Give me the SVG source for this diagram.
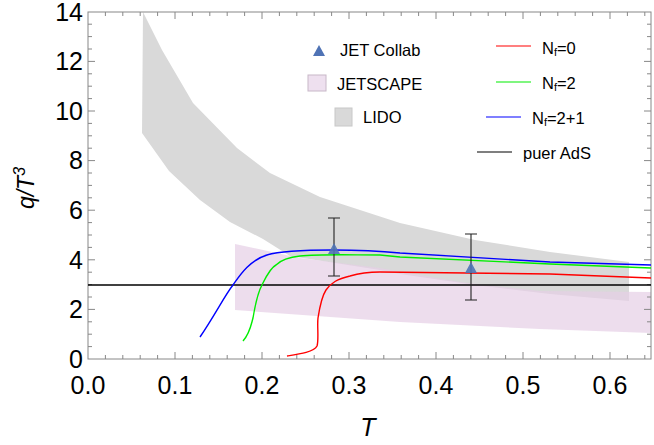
<svg xmlns="http://www.w3.org/2000/svg" width="654" height="445" viewBox="0 0 654 445">
<style>
text{font-family:"Liberation Sans",Arial,sans-serif;fill:#000}
.tk{font-size:25px}
.lg{font-size:16.5px}
.ax{stroke:#888;stroke-width:1;fill:none}
.cv{fill:none;stroke-width:1.4}
.eb{stroke:#222;stroke-width:1.1;fill:none}
</style>
<g id="bands">
<path id="lido" d="M143,12 L162,50 L193,103 L237,148 L270,173 L320,197 L400,223 L475,240 L550,252 L629,262 L629,301 L550,294 L475,285 L400,274 L380,270 L290,256 L263,239 L230,222 L200,200 L169,171 L142,133 Z" fill="#d9d9d9"/>
<path id="jetscape" d="M235,244 L300,258 L380,268 L460,282 L540,291 L651,292 L651,333 L540,329 L400,322 L235,310 Z" fill="#e6cfe6" fill-opacity="0.7"/>
</g>
<g id="axes">
<rect x="88" y="12" width="563" height="347" class="ax"/>
<path class="ax" d="M175,359v-7M262,359v-7M349,359v-7M436,359v-7M523,359v-7M610,359v-7M175,12v7M262,12v7M349,12v7M436,12v7M523,12v7M610,12v7
M105.4,359v-4M122.8,359v-4M140.2,359v-4M157.6,359v-4M192.4,359v-4M209.8,359v-4M227.2,359v-4M244.6,359v-4M279.4,359v-4M296.8,359v-4M314.2,359v-4M331.6,359v-4M366.4,359v-4M383.8,359v-4M401.2,359v-4M418.6,359v-4M453.4,359v-4M470.8,359v-4M488.2,359v-4M505.6,359v-4M540.4,359v-4M557.8,359v-4M575.2,359v-4M592.6,359v-4M627.4,359v-4M644.8,359v-4
M105.4,12v4M122.8,12v4M140.2,12v4M157.6,12v4M192.4,12v4M209.8,12v4M227.2,12v4M244.6,12v4M279.4,12v4M296.8,12v4M314.2,12v4M331.6,12v4M366.4,12v4M383.8,12v4M401.2,12v4M418.6,12v4M453.4,12v4M470.8,12v4M488.2,12v4M505.6,12v4M540.4,12v4M557.8,12v4M575.2,12v4M592.6,12v4M627.4,12v4M644.8,12v4
M88,309.4h7M88,259.8h7M88,210.2h7M88,160.6h7M88,111h7M88,61.4h7M651,309.4h-7M651,259.8h-7M651,210.2h-7M651,160.6h-7M651,111h-7M651,61.4h-7
M88,346.6h4M88,334.2h4M88,321.8h4M88,297h4M88,284.6h4M88,272.2h4M88,247.4h4M88,235h4M88,222.6h4M88,197.8h4M88,185.4h4M88,173h4M88,148.2h4M88,135.8h4M88,123.4h4M88,98.6h4M88,86.2h4M88,73.8h4M88,49h4M88,36.6h4M88,24.2h4
M651,346.6h-4M651,334.2h-4M651,321.8h-4M651,297h-4M651,284.6h-4M651,272.2h-4M651,247.4h-4M651,235h-4M651,222.6h-4M651,197.8h-4M651,185.4h-4M651,173h-4M651,148.2h-4M651,135.8h-4M651,123.4h-4M651,98.6h-4M651,86.2h-4M651,73.8h-4M651,49h-4M651,36.6h-4M651,24.2h-4"/>
<g class="tk" text-anchor="end">
<text x="83" y="368">0</text><text x="83" y="318">2</text><text x="83" y="269">4</text><text x="83" y="219">6</text><text x="83" y="169">8</text><text x="83" y="120">10</text><text x="83" y="70">12</text><text x="83" y="21">14</text>
</g>
<g class="tk" text-anchor="middle">
<text x="88" y="394">0.0</text><text x="175" y="394">0.1</text><text x="262" y="394">0.2</text><text x="349" y="394">0.3</text><text x="436" y="394">0.4</text><text x="523" y="394">0.5</text><text x="610" y="394">0.6</text>
</g>
<text x="368" y="436" font-size="25" font-style="italic" text-anchor="middle">T</text>
<text transform="translate(34,188) rotate(-90)" font-size="23" font-style="italic" text-anchor="middle">q/T<tspan font-size="16" dy="-9">3</tspan></text>
</g>
<g id="curves">
<line x1="88" y1="285" x2="651" y2="285" stroke="#000" stroke-width="1.4"/>
<path class="cv" stroke="#0000ff" d="M200,337 C215,315 225,295 233,285 C240,275 250,260 267,255 C280,251 300,250 333,250 C360,250 380,251 400,253 L550,262 L651,265"/>
<path class="cv" stroke="#00ee00" d="M243,341 C250,333 251,325 253,318 C256,300 258,292 262,285 C266,277 270,268 276,265 C282,259 290,257 300,256 C320,254 350,255 380,255 L400,257 L550,264 L651,268"/>
<path class="cv" stroke="#ff0000" d="M287,356 C300,354 314,352 317,346 C319,340 317,325 318,318 C320,305 322,296 326,290 C331,283 337,279 350,276 C360,273 370,272 380,272 L550,274 L651,278"/>
</g>
<g id="jetcollab">
<path class="eb" d="M334,218V276M328,218h12M328,276h12M471,234V300M465,234h12M465,300h12"/>
<path d="M334,243 L340,254 L328,254 Z M471,262 L477,273 L465,273 Z" fill="#4f73b5" fill-opacity="0.9"/>
</g>
<g id="legend" class="lg">
<path d="M319,45 L325,56 L313,56 Z" fill="#4f73b5"/>
<text x="340" y="56">JET Collab</text>
<rect x="308" y="75" width="18" height="16" fill="#eee0ef" stroke="#c8b8c8"/>
<text x="337" y="90">JETSCAPE</text>
<rect x="335" y="108" width="17" height="18" fill="#d9d9d9" stroke="#c8c8c8"/>
<text x="363" y="123">LIDO</text>
<line x1="496" y1="46" x2="531" y2="46" stroke="#ff0000" stroke-width="1.2"/>
<text x="542" y="54">N<tspan font-size="11" dy="2">f</tspan><tspan dy="-2">=0</tspan></text>
<line x1="496" y1="82" x2="531" y2="82" stroke="#00ee00" stroke-width="1.2"/>
<text x="542" y="89">N<tspan font-size="11" dy="2">f</tspan><tspan dy="-2">=2</tspan></text>
<line x1="486" y1="117" x2="521" y2="117" stroke="#0000ff" stroke-width="1.2"/>
<text x="532" y="124">N<tspan font-size="11" dy="2">f</tspan><tspan dy="-2">=2+1</tspan></text>
<line x1="477" y1="152" x2="512" y2="152" stroke="#000" stroke-width="1.2"/>
<text x="523" y="159">puer AdS</text>
</g>
</svg>
